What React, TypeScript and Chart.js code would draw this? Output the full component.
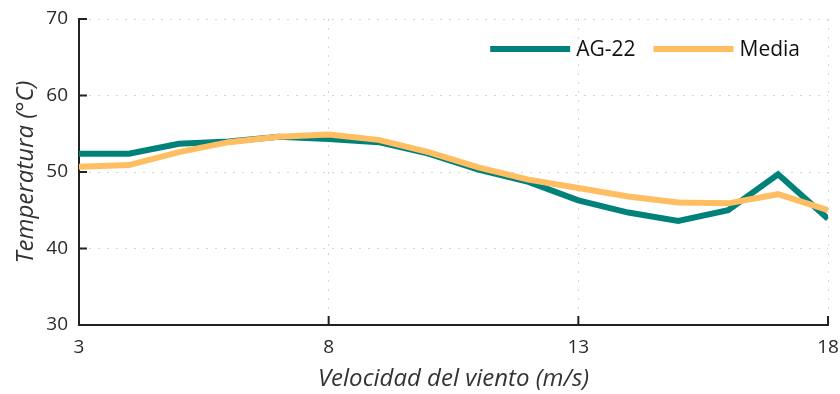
import React, { useEffect, useRef } from "react";
import { Chart, registerables } from "chart.js";

Chart.register(...registerables);

const windSpeed = [3, 4, 5, 6, 7, 8, 9, 10, 11, 12, 13, 14, 15, 16, 17, 18];
const ag22 = [52.4, 52.4, 53.7, 54.0, 54.6, 54.3, 53.9, 52.4, 50.3, 48.7, 46.3, 44.7, 43.6, 45.0, 49.7, 43.9];
const media = [50.7, 50.9, 52.6, 53.9, 54.6, 54.9, 54.2, 52.6, 50.6, 49.0, 47.9, 46.8, 46.0, 45.9, 47.1, 45.0];
const seriesNames = ["AG-22", "Media"];
const xTitle = "Velocidad del viento (m/s)";
const yTitle = "Temperatura (°C)";

const TEAL = "#00827a";
const ORANGE = "#ffbe62";
const FONT = "'Open Sans', 'Noto Sans', sans-serif";

const inwardTicks = {
  id: "inwardTicks",
  afterDraw(chart: any) {
    const { ctx, chartArea, scales } = chart;
    ctx.save();
    ctx.strokeStyle = "#222";
    ctx.lineWidth = 2;
    ctx.beginPath();
    scales.x.ticks.forEach((t: any) => {
      const px = scales.x.getPixelForValue(t.value);
      ctx.moveTo(px, chartArea.bottom);
      ctx.lineTo(px, chartArea.bottom - 9);
    });
    scales.y.ticks.forEach((t: any) => {
      const py = scales.y.getPixelForValue(t.value);
      ctx.moveTo(chartArea.left, py);
      ctx.lineTo(chartArea.left + 8, py);
    });
    ctx.stroke();
    ctx.restore();
  },
};

const lineLegend = {
  id: "lineLegend",
  afterDraw(chart: any) {
    const { ctx, chartArea } = chart;
    const boxW = 80;
    const boxH = 6;
    const gapText = 6;
    const gapItem = 18;
    ctx.save();
    ctx.font = `21px ${FONT}`;
    ctx.textBaseline = "middle";
    ctx.textAlign = "left";
    const ds = chart.data.datasets;
    const widths = ds.map((d: any) => boxW + gapText + ctx.measureText(d.label).width);
    const total = widths.reduce((a: number, b: number) => a + b, 0) + gapItem * (ds.length - 1);
    let x = chartArea.right - 28 - total;
    const yc = chartArea.top + 30;
    ds.forEach((d: any, i: number) => {
      ctx.fillStyle = d.borderColor;
      ctx.fillRect(x, yc - boxH / 2, boxW, boxH);
      ctx.fillStyle = "#111";
      ctx.fillText(d.label, x + boxW + gapText, yc + 1);
      x += widths[i] + gapItem;
    });
    ctx.restore();
  },
};

export default function App() {
  const ref = useRef<HTMLCanvasElement>(null);
  useEffect(() => {
    if (!ref.current) return;
    const chart = new Chart(ref.current, {
      type: "line",
      data: {
        datasets: [
          {
            label: seriesNames[0],
            data: windSpeed.map((x, i) => ({ x, y: ag22[i] })),
            borderColor: TEAL,
            backgroundColor: TEAL,
            borderWidth: 6,
            pointRadius: 0,
            tension: 0,
            order: 1,
          },
          {
            label: seriesNames[1],
            data: windSpeed.map((x, i) => ({ x, y: media[i] })),
            borderColor: ORANGE,
            backgroundColor: ORANGE,
            borderWidth: 6,
            pointRadius: 0,
            tension: 0,
            order: 0,
          },
        ],
      },
      options: {
        animation: false,
        responsive: true,
        maintainAspectRatio: false,
        layout: { padding: { left: 0, top: 19, right: 12, bottom: 0 } },
        plugins: {
          tooltip: { enabled: false },
          legend: { display: false },
        },
        scales: {
          x: {
            type: "linear",
            min: 3,
            max: 18,
            afterFit: (s: any) => {
              s.height = 69;
              s.paddingRight = 0;
              s.paddingLeft = 0;
            },
            ticks: {
              stepSize: 5,
              padding: 11,
              color: "#2a2a2a",
              font: { family: FONT, size: 19 },
            },
            grid: {
              color: "#d4d4d4",
              lineWidth: 1,
              drawTicks: false,
            },
            border: { display: true, color: "#222", width: 2, dash: [2, 7] },
            title: {
              display: true,
              text: xTitle,
              color: "#333",
              font: { family: FONT, size: 24, style: "italic" },
              padding: { top: 0, bottom: 0 },
            },
          },
          y: {
            min: 30,
            max: 70,
            afterFit: (s: any) => {
              s.width = 79;
              s.paddingTop = 0;
              s.paddingBottom = 0;
            },
            ticks: {
              stepSize: 10,
              padding: 11,
              color: "#2a2a2a",
              font: { family: FONT, size: 19 },
            },
            grid: {
              color: "#d4d4d4",
              lineWidth: 1,
              drawTicks: false,
            },
            border: { display: true, color: "#222", width: 2, dash: [2, 7] },
            title: {
              display: true,
              text: yTitle,
              color: "#333",
              font: { family: FONT, size: 24, style: "italic" },
              padding: { top: 12, bottom: 0 },
            },
          },
        },
      },
      plugins: [inwardTicks, lineLegend],
    });
    return () => chart.destroy();
  }, []);
  return (
    <div style={{ position: "fixed", left: 0, top: 0, width: 840, height: 394, background: "#fff" }}>
      <canvas ref={ref} />
    </div>
  );
}
